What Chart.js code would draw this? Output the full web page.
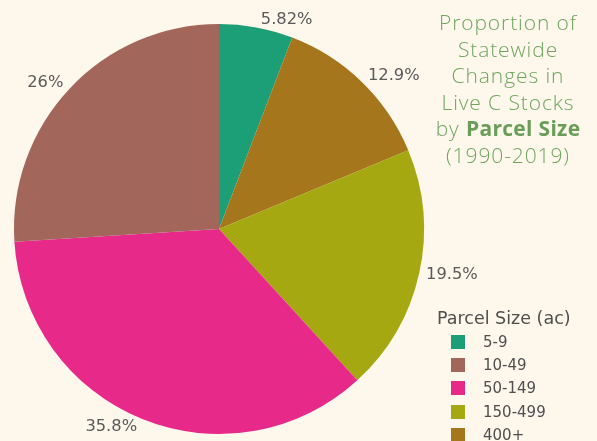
<!DOCTYPE html>
<html>
<head>
<meta charset="utf-8">
<script src="https://cdn.jsdelivr.net/npm/chart.js@4"></script>
<style>
  html, body { margin: 0; padding: 0; background: #fdf7ec; }
  #wrap { position: relative; width: 597px; height: 441px; overflow: hidden; }
  #pie { position: absolute; left: 0; top: 0; }
  #title {
    position: absolute; left: 420px; top: 9px; width: 176px;
    text-align: center; color: #70a45f;
    font-family: "Open Sans", sans-serif; font-weight: 300;
    font-size: 21px; line-height: 26.6px; letter-spacing: 0.9px;
  }
  #title b { font-weight: 700; color: #6a9d58; letter-spacing: 0.3px; }
  #legend {
    position: absolute; left: 437px; top: 306px;
    font-family: "DejaVu Sans", Verdana, sans-serif; color: #4f4f4f;
  }
  #legend .head { font-size: 17.5px; height: 24px; line-height: 24px; }
  #legend .row { height: 23.3px; font-size: 15px; display: flex; align-items: center; }
  #legend .sw { width: 14px; height: 14px; margin-left: 14px; margin-right: 18px; }
</style>
</head>
<body>
<div id="wrap">
  <canvas id="pie" width="597" height="441"></canvas>
  <div id="title">Proportion of<br>Statewide<br>Changes in<br>Live C Stocks<br>by <b>Parcel Size</b><br>(1990-2019)</div>
  <div id="legend"></div>
</div>
<script>
// slices in drawing order, clockwise from 12 o'clock
const categories = ['5-9', '400+', '150-499', '50-149', '10-49'];
const shares = [5.82, 12.9, 19.5, 35.8, 26];
const sliceColors = ['#1c9e77', '#a6761d', '#a5a811', '#e7298a', '#a3665a'];
// order the legend lists them in
const legendOrder = ['5-9', '10-49', '50-149', '150-499', '400+'];

const legendEl = document.getElementById('legend');
legendEl.innerHTML = '<div class="head">Parcel Size (ac)</div>' +
  legendOrder.map(c => {
    const i = categories.indexOf(c);
    return '<div class="row"><span class="sw" style="background:' + sliceColors[i] + '"></span>' + c + '</div>';
  }).join('');

// percent labels just outside each slice
const outsideLabels = {
  id: 'outsideLabels',
  afterDatasetsDraw(chart) {
    const ctx = chart.ctx;
    const meta = chart.getDatasetMeta(0);
    ctx.save();
    ctx.font = '16.3px "DejaVu Sans", Verdana, sans-serif';
    ctx.fillStyle = '#5a5a5a';
    ctx.textBaseline = 'middle';
    meta.data.forEach((arc, i) => {
      const p = arc.getProps(['x', 'y', 'startAngle', 'endAngle', 'outerRadius'], true);
      const mid = (p.startAngle + p.endAngle) / 2;
      const r = p.outerRadius + 3;
      const ax = p.x + Math.cos(mid) * r;
      const ay = p.y + Math.sin(mid) * r;
      const right = Math.cos(mid) >= 0;
      ctx.textAlign = right ? 'left' : 'right';
      ctx.fillText(shares[i] + '%', ax + (right ? 4 : -4), ay + 5 * Math.sin(mid));
    });
    ctx.restore();
  }
};

new Chart(document.getElementById('pie'), {
  type: 'pie',
  data: {
    labels: categories,
    datasets: [{
      data: shares,
      backgroundColor: sliceColors,
      borderWidth: 0
    }]
  },
  options: {
    responsive: false,
    animation: false,
    layout: { padding: { left: 14, right: 173, top: 24, bottom: 7 } },
    plugins: {
      legend: { display: false },
      tooltip: { enabled: false }
    }
  },
  plugins: [outsideLabels]
});
</script>
</body>
</html>
